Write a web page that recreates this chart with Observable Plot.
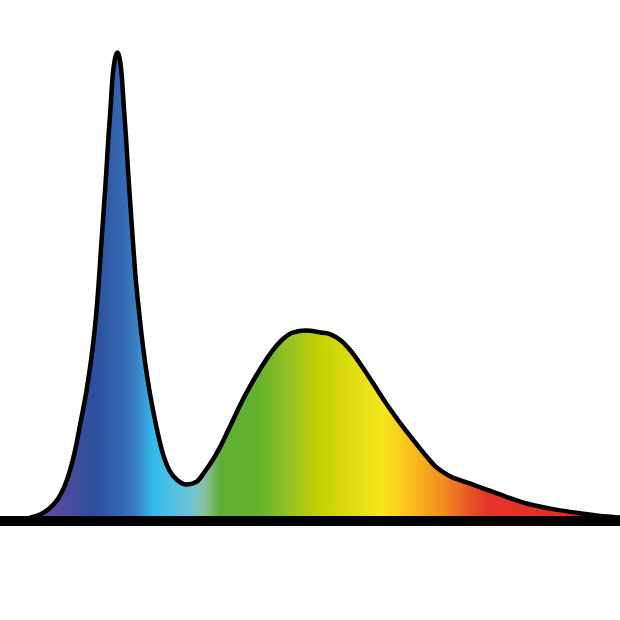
<!DOCTYPE html>
<html>
<head>
<meta charset="utf-8">
<script src="https://cdn.jsdelivr.net/npm/d3@7"></script>
<script src="https://cdn.jsdelivr.net/npm/@observablehq/plot@0.6"></script>
<style>
  html, body { margin: 0; padding: 0; background: #fff; }
  #chart svg { display: block; }
</style>
</head>
<body>
<div id="chart"></div>
<script>
// Relative spectral power of a white LED (wavelength in nm, normalised intensity)
const wavelength = [399.4, 403.9, 409.0, 414.2, 418.7, 423.2, 428.1, 431.9, 435.5, 438.4,
  440.7, 442.5, 443.9, 445.2, 446.7, 448.2, 449.5, 451.0, 452.5, 455.5,
  458.1, 459.6, 461.1, 462.4, 463.9, 465.4, 466.8, 468.6, 470.7, 473.1,
  476.1, 479.7, 484.2, 489.0, 494.2, 500.0, 506.5, 512.3, 516.8, 521.9,
  528.4, 534.8, 541.3, 547.7, 554.2, 562.6, 569.0, 576.8, 586.5, 592.9,
  599.4, 605.8, 614.2, 627.1, 638.1, 646.5, 655.5, 660.6, 665.8, 671.6,
  676.8, 689.7, 702.6, 717.4, 734.8, 754.2, 771.6, 780.0];
const intensity = [0.0, 0.004, 0.013, 0.028, 0.049, 0.084, 0.144, 0.209, 0.273, 0.338,
  0.402, 0.467, 0.531, 0.596, 0.667, 0.740, 0.811, 0.882, 0.955, 1.0,
  0.955, 0.882, 0.811, 0.740, 0.667, 0.596, 0.531, 0.467, 0.402, 0.338,
  0.273, 0.209, 0.144, 0.101, 0.080, 0.071, 0.077, 0.101, 0.123, 0.153,
  0.198, 0.243, 0.284, 0.320, 0.353, 0.385, 0.398, 0.402, 0.398, 0.394,
  0.381, 0.359, 0.320, 0.254, 0.202, 0.166, 0.129, 0.110, 0.097, 0.086,
  0.080, 0.065, 0.049, 0.032, 0.019, 0.009, 0.002, 0.0];

// Spectrum colour stops (wavelength in nm -> colour)
const stopWavelength = [415, 440, 459, 467, 479, 503, 512, 522, 548, 567, 587, 603, 627, 643, 666, 694, 780];
const stopColor = ["#5a4a9e", "#2c4f9c", "#3468b2", "#3a7cc0", "#33bcec", "#6cc4d8", "#8cc0a0", "#5eae36",
  "#66b32e", "#98c322", "#c6d000", "#d9db10", "#f6e61c", "#fbc21a", "#f08c20", "#e4342a", "#e02c24"];

const data = wavelength.map((w, i) => ({wavelength: w, intensity: intensity[i]}));

const plot = Plot.plot({
  width: 620,
  height: 620,
  margin: 0,
  x: {domain: [380, 780], axis: null},
  y: {domain: [0, 1], range: [517, 52], axis: null},
  marks: [
    Plot.areaY(data, {x: "wavelength", y: "intensity", fill: "url(#spectrum)", curve: "monotone-x"}),
    Plot.lineY(data, {x: "wavelength", y: "intensity", stroke: "black", strokeWidth: 4.5, curve: "monotone-x", strokeLinejoin: "round"}),
    Plot.ruleY([0], {stroke: "black", strokeWidth: 10, dy: 3.5})
  ]
});

// Build the horizontal spectrum gradient from the x scale
const xs = plot.scale("x");
const ns = "http://www.w3.org/2000/svg";
const defs = document.createElementNS(ns, "defs");
const grad = document.createElementNS(ns, "linearGradient");
grad.setAttribute("id", "spectrum");
grad.setAttribute("gradientUnits", "userSpaceOnUse");
grad.setAttribute("x1", xs.apply(380));
grad.setAttribute("x2", xs.apply(780));
grad.setAttribute("y1", 0);
grad.setAttribute("y2", 0);
stopWavelength.forEach((w, i) => {
  const s = document.createElementNS(ns, "stop");
  s.setAttribute("offset", (w - 380) / 400);
  s.setAttribute("stop-color", stopColor[i]);
  grad.appendChild(s);
});
defs.appendChild(grad);
plot.insertBefore(defs, plot.firstChild);

document.getElementById("chart").appendChild(plot);
</script>
</body>
</html>
